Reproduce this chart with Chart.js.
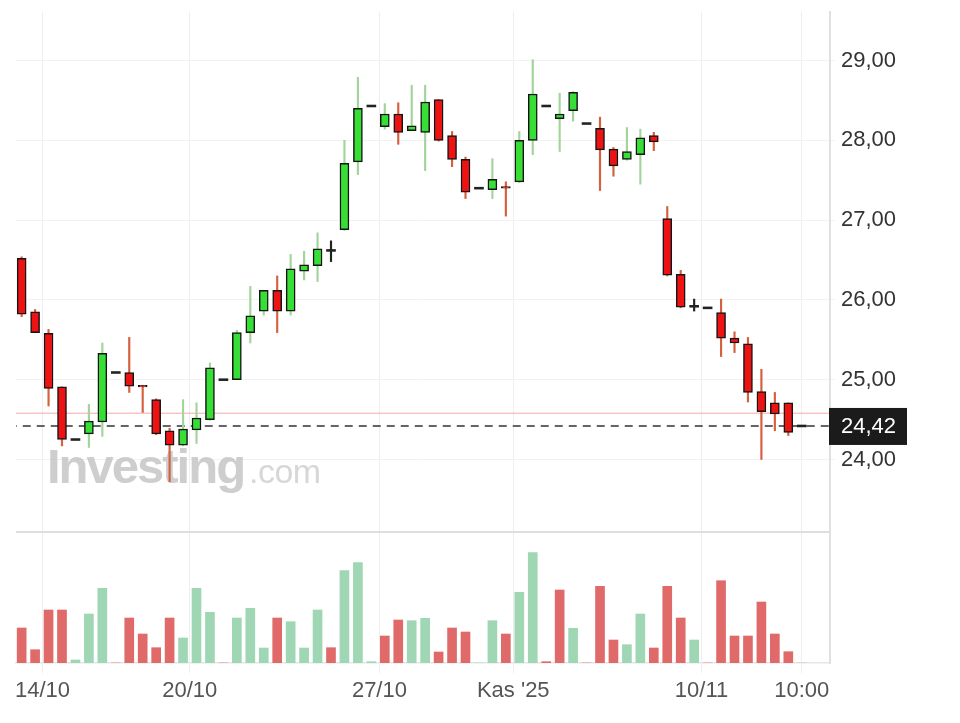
<!DOCTYPE html>
<html lang="tr">
<head>
<meta charset="UTF-8">
<title>Hisse grafiği</title>
<script src="https://cdn.jsdelivr.net/npm/chart.js"></script>
<style>
  body { margin: 0; background: #fff; }
</style>
</head>
<body>
<canvas id="myChart" width="960" height="723"></canvas>
<script>
// OHLC per candle
const opens  = [26.52, 25.85, 25.58, 24.91, 24.25, 24.32, 24.47, 25.09, 25.09, 24.93,
                24.75, 24.36, 24.18, 24.37, 24.50, 25.00, 25.00, 25.59, 25.86, 26.12,
                25.86, 26.36, 26.43, 26.62, 26.88, 27.73, 28.43, 28.17, 28.33, 28.12,
                28.10, 28.51, 28.06, 27.76, 27.40, 27.38, 27.42, 27.48, 28.00, 28.43,
                28.27, 28.37, 28.21, 28.15, 27.89, 27.76, 27.82, 28.06, 27.02, 26.32,
                25.92, 25.90, 25.84, 25.52, 25.45, 24.85, 24.71, 24.71, 24.42];
const highs  = [26.54, 25.88, 25.63, 24.91, 24.25, 24.69, 25.46, 25.09, 25.53, 24.93,
                24.76, 24.39, 24.75, 24.71, 25.21, 25.00, 25.62, 26.17, 26.12, 26.30,
                26.57, 26.61, 26.84, 26.74, 28.00, 28.79, 28.43, 28.46, 28.47, 28.69,
                28.69, 28.51, 28.11, 27.79, 27.40, 27.77, 27.48, 28.11, 29.01, 28.43,
                28.59, 28.61, 28.21, 28.29, 27.91, 28.16, 28.14, 28.10, 27.17, 26.37,
                26.01, 25.90, 26.01, 25.60, 25.53, 25.13, 24.84, 24.71, 24.42];
const lows   = [25.79, 25.59, 24.67, 24.17, 24.25, 24.15, 24.29, 25.09, 24.84, 24.59,
                24.31, 23.72, 24.17, 24.20, 24.49, 25.00, 25.00, 25.46, 25.81, 25.59,
                25.81, 26.25, 26.23, 26.48, 26.87, 27.57, 28.43, 28.14, 27.95, 28.12,
                27.62, 27.99, 27.67, 27.27, 27.40, 27.27, 27.05, 27.47, 27.82, 28.43,
                27.86, 28.24, 28.21, 27.37, 27.55, 27.75, 27.45, 27.87, 26.30, 25.90,
                25.86, 25.90, 25.29, 25.34, 24.72, 24.00, 24.36, 24.30, 24.42];
const closes = [25.82, 25.59, 24.89, 24.25, 24.25, 24.48, 25.33, 25.09, 24.92, 24.91,
                24.32, 24.18, 24.38, 24.52, 25.15, 25.00, 25.59, 25.80, 26.12, 25.86,
                26.39, 26.44, 26.64, 26.62, 27.71, 28.40, 28.43, 28.33, 28.10, 28.18,
                28.48, 28.00, 27.76, 27.35, 27.40, 27.51, 27.40, 28.00, 28.58, 28.43,
                28.33, 28.60, 28.21, 27.88, 27.68, 27.86, 28.03, 27.98, 26.31, 25.91,
                25.92, 25.90, 25.52, 25.46, 24.84, 24.60, 24.57, 24.34, 24.42];
// volume (millions)
const volumes = [3.50, 1.33, 5.30, 5.30, 0.30, 4.90, 7.47, 0, 4.50, 2.90,
                 1.53, 4.50, 2.50, 7.47, 5.07, 0, 4.50, 5.47, 1.50, 4.50,
                 4.13, 1.50, 5.30, 1.53, 9.23, 10.03, 0.13, 2.70, 4.30, 4.23,
                 4.47, 1.10, 3.50, 3.10, 0, 4.23, 2.90, 7.07, 11.03, 0.13,
                 7.30, 3.47, 0, 7.67, 2.30, 1.83, 4.90, 1.50, 7.67, 4.50,
                 2.30, 0, 8.23, 2.70, 2.70, 6.10, 2.90, 1.13, 0];
const xTickPos = [1.55, 12.5, 26.6, 36.55, 50.55, 58];
const xTickLabels = ['14/10', '20/10', '27/10', "Kas '25", '10/11', '10:00'];
const priceTicks = [24, 25, 26, 27, 28, 29];
const lastPrice = 24.42;
const prevClose = 24.58;

const FONT = '"Liberation Sans", Arial, sans-serif';
const RED = '#ee1313', GREEN = '#36de36';
const WICK_RED = '#d6603e', WICK_GREEN = '#a3d49c';
const VOL_RED = '#e06a6a', VOL_GREEN = '#9fd6b4';

const dir = opens.map((o, i) => Math.sign(closes[i] - o));

const bodyData = opens.map((o, i) => {
  const c = closes[i];
  if (dir[i] === 0) return {x: i, y: [c - 0.012, c + 0.012]};
  return {x: i, y: [o, c]};
});
const wickData = lows.map((l, i) => ({x: i, y: [l, highs[i]]}));
const volData = volumes.map((v, i) => ({x: i, y: v}));
const volColors = closes.map((c, i) => {
  const ref = i === 0 ? opens[0] : closes[i - 1];
  return c >= ref ? VOL_GREEN : VOL_RED;
});

const noPad = s => { s.paddingTop = 0; s.paddingBottom = 0; s.paddingLeft = 0; s.paddingRight = 0; };

const extras = {
  id: 'extras',
  beforeDatasetsDraw(chart) {
    const ctx = chart.ctx;
    ctx.save();
    ctx.fillStyle = 'rgba(192,192,192,0.78)';
    ctx.font = 'bold 49px ' + FONT;
    ctx.letterSpacing = '-2px';
    ctx.textBaseline = 'alphabetic';
    ctx.fillText('Investing', 47, 483);
    ctx.font = '34px ' + FONT;
    ctx.letterSpacing = '-0.5px';
    ctx.fillStyle = 'rgba(205,205,205,0.8)';
    ctx.fillText('.com', 249, 483);
    ctx.restore();
  },
  afterDraw(chart) {
    const ctx = chart.ctx, area = chart.chartArea;
    const yv = chart.scales.yv, y = chart.scales.y;
    ctx.save();
    // separator between price and volume panes
    ctx.strokeStyle = '#dedede';
    ctx.lineWidth = 2;
    ctx.beginPath();
    ctx.moveTo(area.left, yv.top);
    ctx.lineTo(area.right, yv.top);
    ctx.stroke();
    // last price box
    const py = y.getPixelForValue(lastPrice);
    ctx.fillStyle = '#1b1b1b';
    ctx.fillRect(area.right - 1, py - 18, 78, 37);
    ctx.fillStyle = '#fff';
    ctx.font = '22px ' + FONT;
    ctx.textBaseline = 'middle';
    ctx.fillText(lastPrice.toFixed(2).replace('.', ','), area.right + 11, py + 1);
    ctx.restore();
  }
};

const config = {
  type: 'bar',
  data: {
    datasets: [
      {
        type: 'line', data: [{x: -2, y: prevClose}, {x: 62, y: prevClose}],
        borderColor: '#f5a8a8', borderWidth: 1, pointRadius: 0, yAxisID: 'y', order: 4
      },
      {
        type: 'line', data: [{x: -2, y: lastPrice}, {x: 62, y: lastPrice}],
        borderColor: '#333', borderWidth: 1.5, borderDash: [8, 6], pointRadius: 0, yAxisID: 'y', order: 3
      },
      {
        data: wickData, yAxisID: 'y', order: 2, barThickness: 1.5, grouped: false,
        backgroundColor: dir.map(d => d > 0 ? WICK_GREEN : d < 0 ? WICK_RED : '#222')
      },
      {
        data: bodyData, yAxisID: 'y', order: 1, barThickness: 9, grouped: false,
        backgroundColor: dir.map(d => d > 0 ? GREEN : d < 0 ? RED : '#222'),
        borderColor: '#151515', borderWidth: dir.map(d => d === 0 ? 0 : 1.5), borderSkipped: false
      },
      {
        data: volData, yAxisID: 'yv', order: 0, barThickness: 9, grouped: false,
        backgroundColor: volColors
      }
    ]
  },
  options: {
    responsive: false,
    animation: false,
    devicePixelRatio: 1,
    layout: { padding: { left: 16, top: 12, right: 0, bottom: 0 } },
    plugins: { legend: { display: false }, tooltip: { enabled: false } },
    scales: {
      x: {
        type: 'linear', min: -0.42, max: 60.1, offset: false,
        afterBuildTicks: s => { s.ticks = xTickPos.map(v => ({value: v})); },
        afterFit: s => { s.height = 60; noPad(s); },
        ticks: {
          autoSkip: false, maxRotation: 0, padding: 5, color: '#555',
          font: { family: FONT, size: 22 },
          callback: v => xTickLabels[xTickPos.indexOf(v)]
        },
        grid: { color: '#eeeeee', tickLength: 10, offset: false },
        border: { color: '#e6e6e6', width: 1.5 }
      },
      y: {
        type: 'linear', position: 'right', stack: 'main', stackWeight: 520,
        min: 23.091, max: 29.608,
        afterBuildTicks: s => { s.ticks = priceTicks.map(v => ({value: v})); },
        afterFit: s => { s.width = 130; noPad(s); },
        ticks: {
          padding: 6, color: '#333', font: { family: FONT, size: 22 },
          callback: v => v.toFixed(2).replace('.', ',')
        },
        grid: { color: '#f2f2f2', tickLength: 5 },
        border: { color: '#e0e0e0', width: 2 }
      },
      yv: {
        type: 'linear', position: 'right', stack: 'main', stackWeight: 131,
        min: 0, max: 13.1,
        afterFit: s => { s.width = 130; noPad(s); },
        ticks: { display: false },
        grid: { display: false },
        border: { color: '#e0e0e0', width: 2 }
      }
    }
  },
  plugins: [extras]
};

const myChart = new Chart(document.getElementById('myChart'), config);
</script>
</body>
</html>
